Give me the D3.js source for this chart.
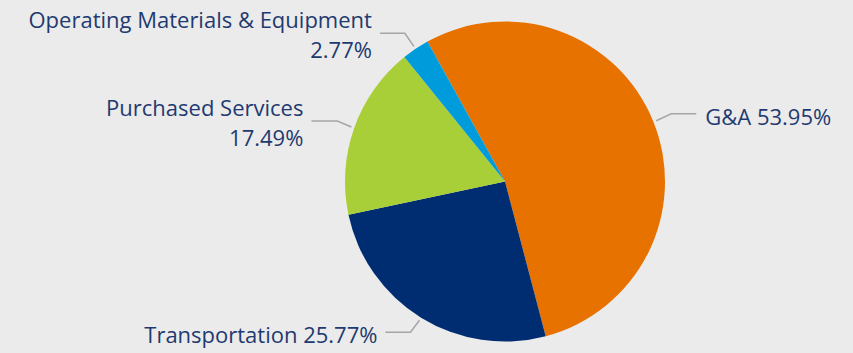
<!DOCTYPE html>
<html>
<head>
<meta charset="utf-8">
<script src="https://cdn.jsdelivr.net/npm/d3@7"></script>
<style>
  html, body { margin: 0; padding: 0; background: #ebebeb; }
  svg { display: block; }
  text { font-family: "Open Sans", "Noto Sans", sans-serif; fill: #1f3a70; }
</style>
</head>
<body>
<svg id="chart" width="853" height="353"></svg>
<script>
// Expense categories and their shares (%)
const categories = ["G&A", "Transportation", "Purchased Services", "Operating Materials & Equipment"];
const shares = [53.95, 25.77, 17.49, 2.77];
const colors = ["#e87200", "#002d72", "#a8ce38", "#009bda"];

const width = 853, height = 353;
const cx = 505, cy = 181.5, radius = 160;
const startDeg = -29;
const fontSize = 22;

const svg = d3.select("#chart");
svg.append("rect").attr("width", width).attr("height", height).attr("fill", "#ebebeb");

const pie = d3.pie()
  .sort(null)
  .value(d => d)
  .startAngle(startDeg * Math.PI / 180)
  .endAngle((startDeg + 360) * Math.PI / 180);

const arcs = pie(shares);
const arc = d3.arc().innerRadius(0).outerRadius(radius);
const leaderArc = d3.arc().innerRadius(radius + 3).outerRadius(radius + 3);

const g = svg.append("g").attr("transform", `translate(${cx},${cy})`);

g.selectAll("path.slice")
  .data(arcs)
  .join("path")
  .attr("class", "slice")
  .attr("d", arc)
  .attr("fill", (d, i) => colors[i]);

// Leader-line elbows and label placement per slice
const labelLayout = [
  { elbow: [15, -7],  run: 25,  twoLine: false, gap: 9 },
  { elbow: [-9, 12],  run: -25, twoLine: false, gap: 8 },
  { elbow: [-14, -6], run: -26, twoLine: true,  gap: 8 },
  { elbow: [-9, -13], run: -25, twoLine: true,  gap: 8 }
];

const fmt = v => v.toFixed(2) + "%";

arcs.forEach((d, i) => {
  const L = labelLayout[i];
  const [x0, y0] = leaderArc.centroid(d);
  const x1 = x0 + L.elbow[0], y1 = y0 + L.elbow[1];
  const x2 = x1 + L.run;
  g.append("polyline")
    .attr("points", [[x0, y0], [x1, y1], [x2, y1]].map(p => p.join(",")).join(" "))
    .attr("fill", "none")
    .attr("stroke", "#a6a6a6")
    .attr("stroke-width", 1.5);

  const right = L.run > 0;
  const tx = right ? x2 + L.gap : x2 - L.gap;
  const anchor = right ? "start" : "end";
  if (L.twoLine) {
    const t = g.append("text")
      .attr("text-anchor", anchor)
      .attr("font-size", fontSize);
    t.append("tspan").attr("x", tx).attr("y", y1 - 5).text(categories[i]);
    t.append("tspan").attr("x", tx).attr("y", y1 + 25).text(fmt(shares[i]));
  } else {
    g.append("text")
      .attr("x", tx)
      .attr("y", y1 + 11)
      .attr("text-anchor", anchor)
      .attr("font-size", fontSize)
      .text(`${categories[i]} ${fmt(shares[i])}`);
  }
});
</script>
</body>
</html>
